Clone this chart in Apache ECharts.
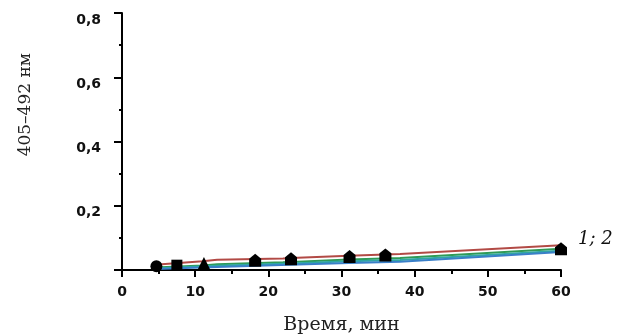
<!DOCTYPE html>
<html>
<head>
<meta charset="utf-8">
<script src="https://cdn.jsdelivr.net/npm/echarts@6/dist/echarts.min.js"></script>
<style>html,body{margin:0;padding:0;background:#fff}#c{width:625px;height:336px}</style>
</head>
<body>
<div id="c"></div>
<script>
var xTicks = [0, 10, 20, 30, 40, 50, 60];
var yTicks = [0.2, 0.4, 0.6, 0.8];
var lineRed   = [[4.5,0.016],[11,0.027],[13,0.032],[22,0.036],[24,0.038],[31,0.044],[36,0.048],[38,0.050],[60,0.077]];
var lineGreen = [[4.5,0.008],[11,0.014],[13,0.018],[22,0.024],[24,0.026],[31,0.033],[38,0.037],[60,0.066]];
var lineTeal  = [[4.5,0.005],[13,0.013],[24,0.021],[31,0.027],[38,0.031],[60,0.060]];
var lineBlue  = [[4.5,0.003],[13,0.009],[24,0.017],[31,0.022],[38,0.026],[60,0.056]];
var markX = [4.7, 7.5, 11.2, 18.2, 23.1, 31.1, 36, 60];
var markY = [0.012, 0.015, 0.020, 0.030, 0.035, 0.042, 0.047, 0.066];
var markShape = ['circle','rect','triangle','pent','pent','pent','pent','pent'];
var curveLabel = '1; 2';
var xName = 'Время, мин';
var yName = '405–492 нм';

var pent = 'path://M5,0 L10,4.5 L10,12 L0,12 L0,4.5 Z';
var markData = markX.map(function(x, i){
  var k = markShape[i];
  var s = k === 'pent' ? pent : k;
  var sz = k === 'pent' ? [12,13] : (k === 'rect' ? 11 : (k === 'triangle' ? 13 : 12));
  var d = {value:[x, markY[i]], symbol:s, symbolSize:sz};
  if (i === markX.length - 1) {
    d.label = {show:true, formatter:curveLabel, position:'right', distance:11, offset:[0,-9],
      fontFamily:'DejaVu Serif', fontStyle:'italic', fontSize:18, color:'#111'};
  }
  return d;
});
function lineSeries(data, color){
  return {type:'line', data:data, symbol:'none', lineStyle:{color:color, width:2}, z:2, silent:true};
}
var chart = echarts.init(document.getElementById('c'));
chart.setOption({
  animation:false,
  grid:{left:122, right:64, top:13, bottom:66, outerBoundsMode:'none', containLabel:false},
  xAxis:{type:'value', min:0, max:60, interval:10,
    name:xName, nameLocation:'middle', nameGap:46,
    nameTextStyle:{fontFamily:'DejaVu Serif', fontSize:19, color:'#222'},
    axisLine:{lineStyle:{color:'#000', width:2}},
    axisTick:{show:true, length:7, lineStyle:{color:'#000', width:2}},
    minorTick:{show:true, splitNumber:2, length:4, lineStyle:{color:'#000', width:2}},
    axisLabel:{margin:15, fontFamily:'DejaVu Sans', fontWeight:'bold', fontSize:14, color:'#111',
      formatter:function(v){return xTicks.indexOf(v) >= 0 ? String(v) : '';}},
    splitLine:{show:false}},
  yAxis:{type:'value', min:0, max:0.8, interval:0.2,
    axisLine:{show:true, lineStyle:{color:'#000', width:2}},
    axisTick:{show:true, length:8, lineStyle:{color:'#000', width:2}},
    minorTick:{show:true, splitNumber:2, length:3, lineStyle:{color:'#000', width:2}},
    axisLabel:{margin:21, verticalAlign:'top', fontFamily:'DejaVu Sans', fontWeight:'bold', fontSize:14, color:'#111',
      formatter:function(v){
        var f = yTicks.filter(function(t){return Math.abs(t - v) < 1e-9;});
        return f.length ? f[0].toFixed(1).replace('.', ',') : '';}},
    splitLine:{show:false}},
  graphic:[{type:'text', left:17, top:53, rotation:Math.PI/2,
    style:{text:yName, fontFamily:'DejaVu Serif', fontSize:17, fill:'#222'}}],
  series:[
    lineSeries(lineRed, '#b24a45'),
    lineSeries(lineGreen, '#2f9a56'),
    lineSeries(lineTeal, '#2fa7a3'),
    lineSeries(lineBlue, '#3a7fc8'),
    {type:'scatter', data:markData, itemStyle:{color:'#000', opacity:1}, z:5, silent:true}
  ]
});
</script>
</body>
</html>
